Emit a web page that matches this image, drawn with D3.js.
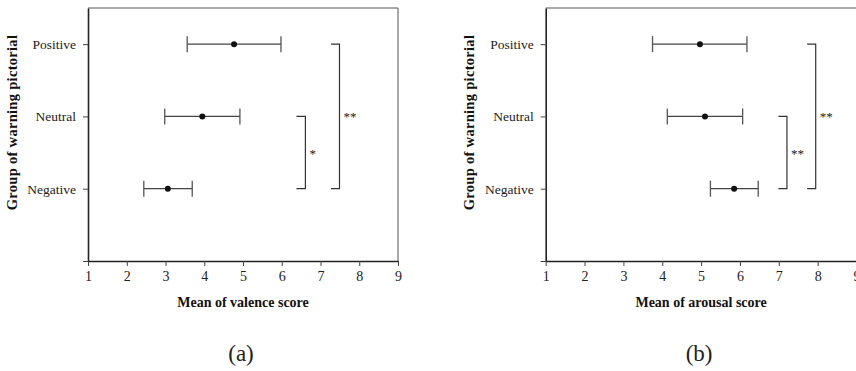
<!DOCTYPE html>
<html>
<head>
<meta charset="utf-8">
<script src="https://cdn.jsdelivr.net/npm/d3@7"></script>
<style>
  body { margin: 0; background: #fff; }
  svg { display: block; font-family: "Liberation Serif", "Times New Roman", serif; }
</style>
</head>
<body>
<div id="chart"></div>
<script>
// categories, bottom to top
const groups = ["Negative", "Neutral", "Positive"];
const xTicks = [1, 2, 3, 4, 5, 6, 7, 8, 9];

// (a) valence
const valenceMean = [3.06, 3.95, 4.77];
const valenceLow = [2.44, 2.98, 3.56];
const valenceHigh = [3.69, 4.92, 5.98];
const valenceBrackets = [
  { from: "Neutral", to: "Negative", x0: 6.38, x1: 6.61, label: "*" },
  { from: "Positive", to: "Negative", x0: 7.27, x1: 7.49, label: "**" },
];

// (b) arousal
const arousalMean = [5.85, 5.10, 4.97];
const arousalLow = [5.24, 4.13, 3.75];
const arousalHigh = [6.47, 6.07, 6.18];
const arousalBrackets = [
  { from: "Neutral", to: "Negative", x0: 6.99, x1: 7.21, label: "**" },
  { from: "Positive", to: "Negative", x0: 7.73, x1: 7.95, label: "**" },
];

const width = 856, height = 371;

const svg = d3.select("#chart")
  .append("svg")
  .attr("width", width)
  .attr("height", height);

function drawPanel({ left, right, mean, low, high, brackets, xTitle, tag, yTitleX }) {
  const top = 8, bottom = 261;

  const x = d3.scaleLinear().domain([1, 9]).range([left, right]);
  // 0 is the empty slot under "Negative", 3.5 leaves room above "Positive"
  const y = d3.scaleLinear().domain([0, 3.5]).range([bottom, top]);

  const g = svg.append("g");

  // frame: top and right sides
  g.append("path")
    .attr("d", `M${left},${top}H${right}V${bottom}`)
    .attr("fill", "none")
    .attr("stroke", "#555")
    .attr("stroke-width", 1);

  // x axis
  const xAxis = d3.axisBottom(x).tickValues(xTicks).tickSize(5).tickSizeOuter(0);
  const gx = g.append("g")
    .attr("transform", `translate(0,${bottom})`)
    .call(xAxis);
  gx.select(".domain").attr("stroke", "#222").attr("stroke-width", 1.6);
  gx.selectAll(".tick line").attr("stroke", "#444");
  gx.selectAll(".tick text")
    .attr("font-family", "Liberation Serif")
    .attr("font-size", 14)
    .attr("fill", "#222")
    .attr("dy", "0.85em");

  // y axis
  const yAxis = d3.axisLeft(y)
    .tickValues([0, 1, 2, 3])
    .tickSize(5)
    .tickSizeOuter(0)
    .tickFormat((d) => (d === 0 ? "" : groups[d - 1]));
  const gy = g.append("g")
    .attr("transform", `translate(${left},0)`)
    .call(yAxis);
  gy.select(".domain").attr("stroke", "#222").attr("stroke-width", 1.6);
  gy.selectAll(".tick line").attr("stroke", "#444");
  gy.selectAll(".tick text")
    .attr("font-family", "Liberation Serif")
    .attr("font-size", 13.5)
    .attr("fill", "#222")
    .attr("x", -12);

  // axis titles
  g.append("text")
    .attr("x", (left + right) / 2)
    .attr("y", 307)
    .attr("text-anchor", "middle")
    .attr("font-weight", "bold")
    .attr("font-size", 14)
    .attr("fill", "#111")
    .text(xTitle);

  g.append("text")
    .attr("transform", `translate(${yTitleX},${(top + bottom) / 2 - 12}) rotate(-90)`)
    .attr("text-anchor", "middle")
    .attr("font-weight", "bold")
    .attr("font-size", 14.5)
    .attr("letter-spacing", 0.3)
    .attr("fill", "#111")
    .text("Group of warning pictorial");

  g.append("text")
    .attr("x", (left + right) / 2 - 2)
    .attr("y", 361)
    .attr("text-anchor", "middle")
    .attr("font-size", 23)
    .attr("fill", "#222")
    .text(tag);

  // error bars
  const rows = groups.map((name, i) => ({ i: i + 1, mean: mean[i], low: low[i], high: high[i] }));
  const capH = 8;

  const bars = g.selectAll(".bar").data(rows).enter().append("g").attr("class", "bar");
  bars.append("line")
    .attr("x1", (d) => x(d.low))
    .attr("x2", (d) => x(d.high))
    .attr("y1", (d) => y(d.i))
    .attr("y2", (d) => y(d.i))
    .attr("stroke", "#444")
    .attr("stroke-width", 1.3);
  bars.append("line")
    .attr("x1", (d) => x(d.low))
    .attr("x2", (d) => x(d.low))
    .attr("y1", (d) => y(d.i) - capH)
    .attr("y2", (d) => y(d.i) + capH)
    .attr("stroke", "#555")
    .attr("stroke-width", 1.3);
  bars.append("line")
    .attr("x1", (d) => x(d.high))
    .attr("x2", (d) => x(d.high))
    .attr("y1", (d) => y(d.i) - capH)
    .attr("y2", (d) => y(d.i) + capH)
    .attr("stroke", "#555")
    .attr("stroke-width", 1.3);
  bars.append("circle")
    .attr("cx", (d) => x(d.mean))
    .attr("cy", (d) => y(d.i))
    .attr("r", 3)
    .attr("fill", "#111");

  // significance brackets
  const idx = (name) => groups.indexOf(name) + 1;
  const br = g.selectAll(".bracket").data(brackets).enter().append("g").attr("class", "bracket");
  br.append("path")
    .attr("d", (d) => `M${x(d.x0)},${y(idx(d.from))}H${x(d.x1)}V${y(idx(d.to))}H${x(d.x0)}`)
    .attr("fill", "none")
    .attr("stroke", "#333")
    .attr("stroke-width", 1.2);
  br.append("text")
    .attr("x", (d) => x(d.x1) + 4)
    .attr("y", (d) => (y(idx(d.from)) + y(idx(d.to))) / 2 + 5)
    .attr("font-size", 13)
    .attr("fill", "#222")
    .text((d) => d.label);
}

drawPanel({
  left: 88, right: 398,
  mean: valenceMean, low: valenceLow, high: valenceHigh,
  brackets: valenceBrackets,
  xTitle: "Mean of valence score", tag: "(a)", yTitleX: 17,
});

drawPanel({
  left: 545.7, right: 856.5,
  mean: arousalMean, low: arousalLow, high: arousalHigh,
  brackets: arousalBrackets,
  xTitle: "Mean of arousal score", tag: "(b)", yTitleX: 474,
});
</script>
</body>
</html>
